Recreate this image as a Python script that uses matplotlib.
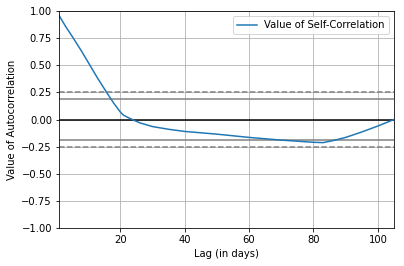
import numpy as np
import matplotlib
matplotlib.use("Agg")
import matplotlib.pyplot as plt

# lag values
lags = [1, 3, 5, 8, 10, 13, 16, 18, 20, 21, 23, 26, 30, 35, 40, 50, 60, 70, 80, 83, 86, 90, 95, 100, 105]
acf = [0.96, 0.86, 0.77, 0.63, 0.53, 0.38, 0.24, 0.15, 0.07, 0.04, 0.01, -0.03, -0.065, -0.09, -0.11,
       -0.135, -0.165, -0.19, -0.21, -0.213, -0.195, -0.165, -0.115, -0.06, 0.0]
n_obs = 105

fig = plt.figure(figsize=(404 / 72, 266 / 72), dpi=72)
ax = fig.add_axes([59 / 404, 1 - 228 / 266, (394 - 59) / 404, (228 - 11) / 266])

z95 = 1.959963984540054
z99 = 2.5758293035489004
ax.axhline(y=z99 / np.sqrt(n_obs), linestyle="--", color="grey")
ax.axhline(y=z95 / np.sqrt(n_obs), color="grey")
ax.axhline(y=0.0, color="black")
ax.axhline(y=-z95 / np.sqrt(n_obs), color="grey")
ax.axhline(y=-z99 / np.sqrt(n_obs), linestyle="--", color="grey")

ax.plot(lags, acf, color="#1f77b4", label="Value of Self-Correlation")
ax.set_xlim(1, n_obs)
ax.set_ylim(-1.0, 1.0)
ax.set_xticks([20, 40, 60, 80, 100])
ax.set_yticks(np.arange(-1.0, 1.01, 0.25))
ax.grid(True)
ax.set_xlabel("Lag (in days)")
ax.set_ylabel("Value of Autocorrelation")
ax.legend(loc="upper right")

fig.savefig("out.png", dpi=72)
